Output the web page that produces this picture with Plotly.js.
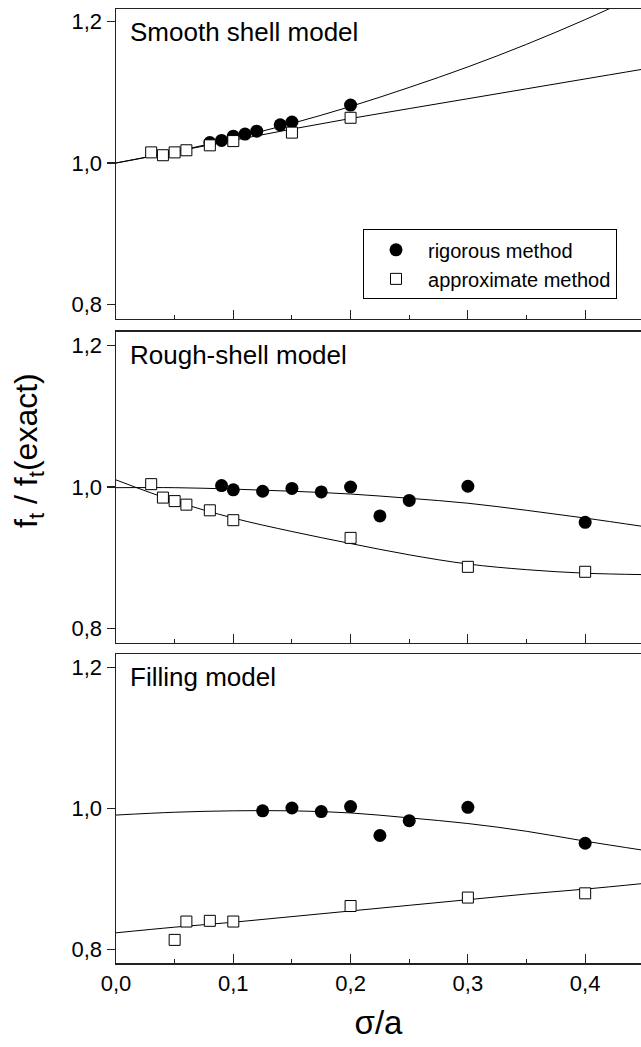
<!DOCTYPE html>
<html>
<head>
<meta charset="utf-8">
<script src="https://cdn.plot.ly/plotly-3.0.1.min.js"></script>
<style>html,body{margin:0;padding:0;background:#fff;}#chart{width:641px;height:1047px;}</style>
</head>
<body>
<div id="chart"></div>
<script>
// ---------- data ----------
// Panel 1: Smooth shell model
const smoothRigX = [0.08, 0.09, 0.10, 0.11, 0.12, 0.14, 0.15, 0.20];
const smoothRigY = [1.029, 1.032, 1.038, 1.041, 1.045, 1.054, 1.058, 1.082];
const smoothAppX = [0.03, 0.04, 0.05, 0.06, 0.08, 0.10, 0.15, 0.20];
const smoothAppY = [1.015, 1.011, 1.015, 1.018, 1.025, 1.031, 1.043, 1.064];
const smoothRigFitX = [0.0, 0.05, 0.10, 0.15, 0.20, 0.25, 0.30, 0.35, 0.40, 0.45];
const smoothRigFitY = [1.000, 1.016, 1.035, 1.056, 1.080, 1.107, 1.136, 1.168, 1.203, 1.241];
const smoothAppFitX = [0.0, 0.05, 0.10, 0.15, 0.20, 0.25, 0.30, 0.35, 0.40, 0.45];
const smoothAppFitY = [1.000, 1.016, 1.032, 1.048, 1.063, 1.077, 1.091, 1.105, 1.119, 1.133];

// Panel 2: Rough-shell model
const roughRigX = [0.09, 0.10, 0.125, 0.15, 0.175, 0.20, 0.225, 0.25, 0.30, 0.40];
const roughRigY = [1.002, 0.996, 0.994, 0.998, 0.993, 1.000, 0.959, 0.981, 1.001, 0.950];
const roughAppX = [0.03, 0.04, 0.05, 0.06, 0.08, 0.10, 0.20, 0.30, 0.40];
const roughAppY = [1.004, 0.985, 0.980, 0.975, 0.967, 0.953, 0.928, 0.887, 0.880];
const roughRigFitX = [0.0, 0.05, 0.10, 0.15, 0.20, 0.25, 0.30, 0.35, 0.40, 0.45];
const roughRigFitY = [0.999, 0.999, 0.997, 0.994, 0.990, 0.984, 0.977, 0.967, 0.956, 0.944];
const roughAppFitX = [0.0, 0.05, 0.10, 0.15, 0.20, 0.25, 0.30, 0.35, 0.40, 0.45];
const roughAppFitY = [1.010, 0.980, 0.956, 0.937, 0.920, 0.904, 0.891, 0.883, 0.878, 0.876];

// Panel 3: Filling model
const fillRigX = [0.125, 0.15, 0.175, 0.20, 0.225, 0.25, 0.30, 0.40];
const fillRigY = [0.997, 1.001, 0.996, 1.003, 0.962, 0.983, 1.002, 0.951];
const fillAppX = [0.05, 0.06, 0.08, 0.10, 0.20, 0.30, 0.40];
const fillAppY = [0.814, 0.840, 0.841, 0.840, 0.862, 0.874, 0.880];
const fillRigFitX = [0.0, 0.05, 0.10, 0.15, 0.20, 0.25, 0.30, 0.35, 0.40, 0.45];
const fillRigFitY = [0.991, 0.995, 0.997, 0.997, 0.994, 0.987, 0.979, 0.968, 0.954, 0.941];
const fillAppFitX = [0.0, 0.05, 0.10, 0.15, 0.20, 0.25, 0.30, 0.35, 0.40, 0.45];
const fillAppFitY = [0.824, 0.832, 0.839, 0.847, 0.855, 0.863, 0.871, 0.879, 0.886, 0.894];

const panelLabels = ["Smooth shell model", "Rough-shell model", "Filling model"];
const seriesNames = ["rigorous method", "approximate method"];
const yTickVals = [0.8, 1.0, 1.2];
const xTickVals = [0.0, 0.1, 0.2, 0.3, 0.4];

// ---------- build traces ----------
const FONT = "Liberation Sans, Arial, sans-serif";
const panels = [
  {xa: "x",  ya: "y",  rx: smoothRigX, ry: smoothRigY, ax: smoothAppX, ay: smoothAppY,
   rfx: smoothRigFitX, rfy: smoothRigFitY, afx: smoothAppFitX, afy: smoothAppFitY},
  {xa: "x2", ya: "y2", rx: roughRigX, ry: roughRigY, ax: roughAppX, ay: roughAppY,
   rfx: roughRigFitX, rfy: roughRigFitY, afx: roughAppFitX, afy: roughAppFitY},
  {xa: "x3", ya: "y3", rx: fillRigX, ry: fillRigY, ax: fillAppX, ay: fillAppY,
   rfx: fillRigFitX, rfy: fillRigFitY, afx: fillAppFitX, afy: fillAppFitY}
];
const lineStyle = {color: "#000", width: 1, shape: "spline", smoothing: 1};
const traces = [];
panels.forEach((p, i) => {
  traces.push({x: p.rfx, y: p.rfy, xaxis: p.xa, yaxis: p.ya, mode: "lines", line: lineStyle, showlegend: false, hoverinfo: "skip"});
  traces.push({x: p.afx, y: p.afy, xaxis: p.xa, yaxis: p.ya, mode: "lines", line: lineStyle, showlegend: false, hoverinfo: "skip"});
});
panels.forEach((p, i) => {
  traces.push({x: p.rx, y: p.ry, xaxis: p.xa, yaxis: p.ya, mode: "markers", name: seriesNames[0],
    marker: {symbol: "circle", size: 13, color: "#000", line: {width: 0}}, showlegend: i === 0, cliponaxis: false});
  traces.push({x: p.ax, y: p.ay, xaxis: p.xa, yaxis: p.ya, mode: "markers", name: seriesNames[1],
    marker: {symbol: "square", size: 11, color: "#fff", line: {width: 1, color: "#000"}}, showlegend: i === 0, cliponaxis: false});
});

// ---------- layout ----------
const AXC = "#222";
function xAxis(anchor, labels) {
  return {
    anchor: anchor, domain: [0, 1], range: [0, 0.4476],
    showline: true, linecolor: AXC, linewidth: 1.5, mirror: true,
    ticks: "inside", ticklen: 9, tickwidth: 1.2, tickcolor: AXC,
    tickvals: xTickVals, tickformat: ".1f", showticklabels: labels,
    minor: {tickvals: [0.05, 0.15, 0.25, 0.35, 0.45], ticks: "inside", ticklen: 4, tickcolor: AXC, tickwidth: 1},
    showgrid: false, zeroline: false,
    tickfont: {family: FONT, size: 22, color: "#000"}
  };
}
function yAxis(anchor, dom, rng) {
  return {
    anchor: anchor, domain: dom, range: rng,
    showline: true, linecolor: AXC, linewidth: 1.5, mirror: false,
    ticks: "outside", ticklen: 8, tickwidth: 1.2, tickcolor: AXC,
    tickvals: yTickVals, tickformat: ".1f",
    showgrid: false, zeroline: false,
    tickfont: {family: FONT, size: 22, color: "#000"}
  };
}
const xa3 = xAxis("y3", true);
xa3.title = {text: "σ/a", font: {family: FONT, size: 33, color: "#000"}, standoff: 16};

const layout = {
  width: 641, height: 1047,
  margin: {l: 116, r: 0, t: 9, b: 84, pad: 0},
  paper_bgcolor: "#fff", plot_bgcolor: "#fff",
  separators: ",.",
  showlegend: true,
  font: {family: FONT, color: "#000"},
  xaxis: xAxis("y", false),
  xaxis2: xAxis("y2", false),
  xaxis3: xa3,
  yaxis: yAxis("x", [0.6754, 1.0], [0.7796, 1.218]),
  yaxis2: yAxis("x2", [0.3357, 0.6618], [0.7796, 1.2198]),
  yaxis3: yAxis("x3", [0.0, 0.3236], [0.7812, 1.219]),
  legend: {
    x: 0.4705, y: 0.769, xanchor: "left", yanchor: "top", xref: "paper", yref: "paper",
    bgcolor: "#fff", bordercolor: "#000", borderwidth: 1,
    font: {family: FONT, size: 20, color: "#000"},
    itemwidth: 54, tracegroupgap: 0
  },
  annotations: [
    {text: panelLabels[0], xref: "paper", yref: "paper", x: 0.0229, y: 0.976, xanchor: "left", yanchor: "middle", showarrow: false, font: {family: FONT, size: 26, color: "#000"}},
    {text: panelLabels[1], xref: "paper", yref: "paper", x: 0.0229, y: 0.6373, xanchor: "left", yanchor: "middle", showarrow: false, font: {family: FONT, size: 26, color: "#000"}},
    {text: panelLabels[2], xref: "paper", yref: "paper", x: 0.0229, y: 0.2995, xanchor: "left", yanchor: "middle", showarrow: false, font: {family: FONT, size: 26, color: "#000"}},
    {text: "f<sub>t</sub> / f<sub>t</sub>(exact)", xref: "paper", yref: "paper", x: -0.1657, y: 0.5367, xanchor: "center", yanchor: "middle", textangle: -90, showarrow: false, font: {family: FONT, size: 32, color: "#000"}}
  ]
};

Plotly.newPlot("chart", traces, layout, {displayModeBar: false, staticPlot: true});
</script>
</body>
</html>
